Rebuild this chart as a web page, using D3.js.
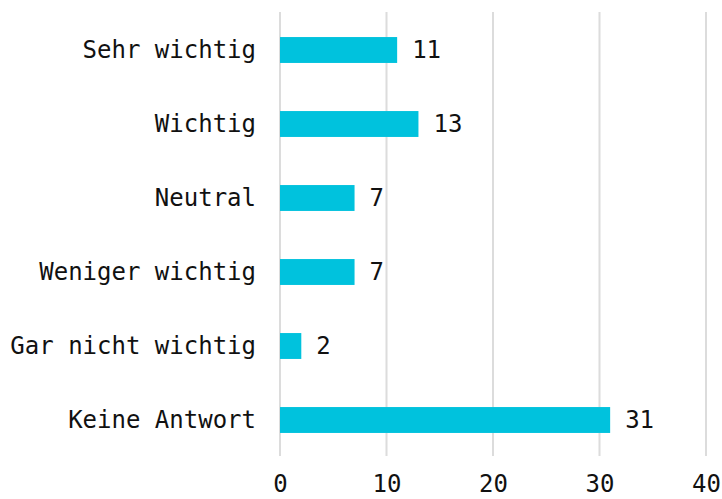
<!DOCTYPE html>
<html>
<head>
<meta charset="utf-8">
<script src="https://cdn.jsdelivr.net/npm/d3@7"></script>
<style>
  html, body { margin: 0; padding: 0; background: #fff; }
  svg { display: block; }
  text { font-family: "DejaVu Sans Mono", "Liberation Mono", monospace; fill: #111; }
</style>
</head>
<body>
<svg id="chart" width="722" height="499"></svg>
<script>
// Answer categories and their counts
const categories = ["Sehr wichtig", "Wichtig", "Neutral", "Weniger wichtig", "Gar nicht wichtig", "Keine Antwort"];
const counts = [11, 13, 7, 7, 2, 31];
const xTicks = [0, 10, 20, 30, 40];

const svg = d3.select("#chart");
const plot = { left: 280, right: 706, top: 13, bottom: 457 };

const x = d3.scaleLinear().domain([0, 40]).range([plot.left, plot.right]);
const y = d3.scaleBand().domain(categories).range([plot.top, plot.bottom]);
const barH = y.bandwidth() * 0.35;

// vertical gridlines
svg.append("g")
  .selectAll("line")
  .data(xTicks)
  .join("line")
  .attr("x1", d => x(d)).attr("x2", d => x(d))
  .attr("y1", 12).attr("y2", 456)
  .attr("stroke", "#dcdcdc")
  .attr("stroke-width", 2);

// x axis tick labels
const xAxis = d3.axisBottom(x).tickValues(xTicks).tickSize(0).tickPadding(0);
const gx = svg.append("g").attr("transform", `translate(0, 492)`).call(xAxis);
gx.select(".domain").remove();
gx.selectAll("text")
  .attr("y", 0).attr("dy", "0")
  .style("font-size", "24px")
  .style("font-family", "DejaVu Sans Mono, Liberation Mono, monospace")
  .attr("fill", "#111");

// category labels
const yAxis = d3.axisLeft(y).tickSize(0).tickPadding(0);
const gy = svg.append("g").attr("transform", `translate(${plot.left - 24}, 0)`).call(yAxis);
gy.select(".domain").remove();
gy.selectAll("text")
  .attr("dy", "0.35em")
  .style("font-size", "24px")
  .style("font-family", "DejaVu Sans Mono, Liberation Mono, monospace")
  .attr("fill", "#111");

const rows = categories.map((c, i) => ({ c, v: counts[i] }));

// bars
svg.append("g")
  .selectAll("rect")
  .data(rows)
  .join("rect")
  .attr("x", x(0))
  .attr("y", d => y(d.c) + (y.bandwidth() - barH) / 2)
  .attr("width", d => x(d.v) - x(0))
  .attr("height", barH)
  .attr("fill", "#00c2dd");

// value labels
svg.append("g")
  .selectAll("text")
  .data(rows)
  .join("text")
  .attr("x", d => x(d.v) + 15)
  .attr("y", d => y(d.c) + y.bandwidth() / 2)
  .attr("dy", "0.35em")
  .style("font-size", "24px")
  .text(d => d.v);
</script>
</body>
</html>
